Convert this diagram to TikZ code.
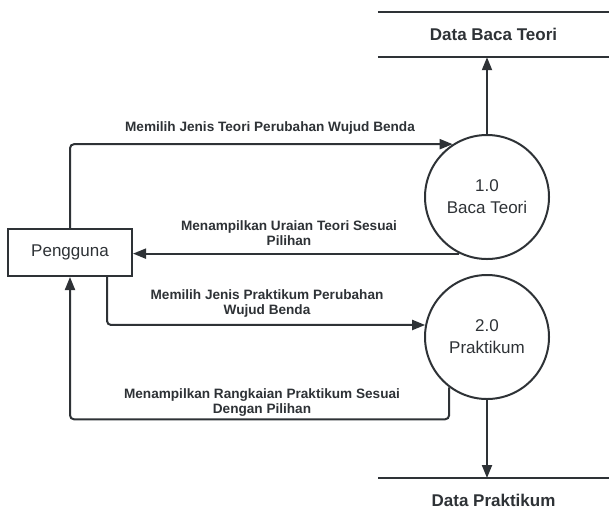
\documentclass[tikz,border=0pt]{standalone}
\usepackage{fontspec}
\setmainfont{Liberation Sans}
\usetikzlibrary{arrows.meta,calc}
\definecolor{ink}{HTML}{2E3236}
\begin{document}
\begin{tikzpicture}[x=1pt,y=-1pt,
  line/.style={draw=ink,line width=2pt},
  flow/.style={line,-{Triangle[length=13pt,width=10pt]},rounded corners=4pt},
  process/.style={circle,draw=ink,line width=2pt,minimum size=124pt,inner sep=0pt,
    align=center,font=\fontsize{17}{22}\selectfont,text=ink},
  entity/.style={rectangle,draw=ink,line width=2pt,minimum width=124pt,minimum height=47pt,
    font=\fontsize{17}{20}\selectfont,text=ink},
  store/.style={minimum width=231pt,minimum height=45pt,inner sep=0pt,
    font=\fontsize{17}{20}\selectfont\bfseries,text=ink},
  lbl/.style={align=center,font=\fontsize{13.6}{15}\selectfont\bfseries,text=ink}]
\useasboundingbox (0,0) rectangle (609,512);

% processes, external entity and data stores
\node[entity] (pg) at (70,252.5) {Pengguna};
\node[process] (c1) at (487,197) {1.0\\Baca Teori};
\node[process] (c2) at (487,337) {2.0\\Praktikum};
\node[store] (s1) at (493.5,34.5) {Data Baca Teori};
\node[store] (s2) at (493.5,500) {Data Praktikum};
\draw[line] (s1.north west) -- (s1.north east);
\draw[line] (s1.south west) -- (s1.south east);
\coordinate (s2top) at (487,478);
\draw[line] (378,478) -- (609,478);

% data flows
\draw[flow] (pg.north) |- (c1.123);
\draw[flow] (c1.244) -- (c1.244 -| pg.east);
\draw[flow] ([xshift=37pt]pg.south) |- (c2.169);
\draw[flow] (c2.233) -- ++(0,32) -| (pg.south);
\draw[flow] (c1.north) -- (c1.north |- s1.south);
\draw[flow] (c2.south) -- (s2top);

% flow labels
\node[lbl] at (270,128) {Memilih Jenis Teori Perubahan Wujud Benda};
\node[lbl] at (289,233.5) {Menampilkan Uraian Teori Sesuai\\Pilihan};
\node[lbl] at (267,303.5) {Memilih Jenis Praktikum Perubahan\\Wujud Benda};
\node[lbl] at (262,402.5) {Menampilkan Rangkaian Praktikum Sesuai\\Dengan Pilihan};
\end{tikzpicture}
\end{document}
